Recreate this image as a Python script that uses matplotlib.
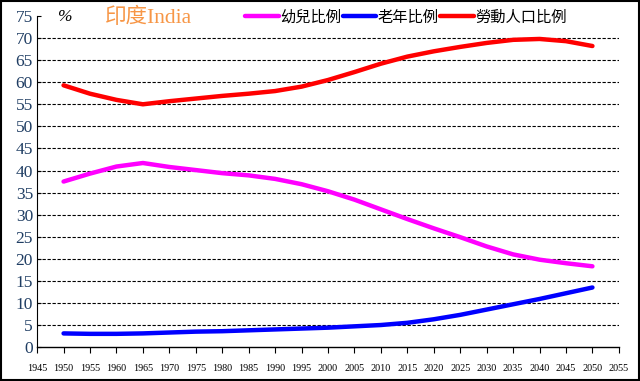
import numpy as np
import matplotlib
matplotlib.use("Agg")
from matplotlib import pyplot as plt
from matplotlib.patches import Rectangle

# 印度 人口結構 (%)
years = list(range(1950, 2051, 5))
child = [37.5, 39.3, 40.9, 41.7, 40.8, 40.1, 39.4, 38.9, 38.1, 36.9, 35.3,
         33.4, 31.2, 29.0, 26.9, 24.9, 22.8, 21.0, 19.8, 19.0, 18.3]
elderly = [3.1, 3.0, 3.0, 3.1, 3.3, 3.5, 3.6, 3.8, 4.0, 4.2, 4.4,
           4.7, 5.0, 5.5, 6.3, 7.3, 8.5, 9.7, 10.9, 12.2, 13.5]
labor = [59.3, 57.4, 56.0, 55.0, 55.7, 56.3, 56.9, 57.4, 58.0, 59.0, 60.5,
         62.3, 64.2, 65.8, 67.0, 68.0, 68.9, 69.6, 69.8, 69.3, 68.2]
series_names = ["幼兒比例", "老年比例", "勞動人口比例"]
x_ticks = list(range(1945, 2056, 5))
y_ticks = list(range(0, 76, 5))

CJK = ["Noto Sans CJK TC", "DejaVu Sans"]
SERIF_CJK = ["Liberation Serif", "Noto Sans CJK TC"]

fig = plt.figure(figsize=(6.4, 3.81), dpi=100)
ax = fig.add_axes([0.058, 0.089, 0.909, 0.869])

for vals, color in zip([child, elderly, labor], ["#FF00FF", "#0000FF", "#FF0000"]):
    ax.plot(years, vals, color=color, lw=3.2, solid_capstyle="round",
            solid_joinstyle="round", zorder=3)

# gridlines (dashed), none at 0 and 75
ax.hlines(y_ticks[1:-1], 1945, 2055, colors="black", lw=0.8,
          linestyles=(0, (3, 1.5)), zorder=1)

ax.set_xlim(1945, 2055)
ax.set_ylim(0, 75)
ax.set_xticks(x_ticks)
ax.set_xticklabels([str(t) for t in x_ticks], family="Liberation Serif",
                   fontsize=7.3, color="black")
ax.set_yticks(y_ticks)
ax.set_yticklabels([str(t) for t in y_ticks], family="Liberation Serif",
                   fontsize=12.5, color="#1F3D63")
ax.tick_params(axis="x", direction="out", length=4, width=0.8, pad=8)
ax.tick_params(axis="y", direction="in", length=3, width=0.8, pad=3)

ax.spines["top"].set_visible(False)
ax.spines["right"].set_visible(False)
ax.spines["left"].set_linestyle((0, (2, 1)))
ax.spines["left"].set_linewidth(0.8)
ax.spines["bottom"].set_linewidth(1.0)

fig.text(0.09, 0.955, "%", family="Liberation Serif", style="italic",
         fontsize=12.5, va="center", ha="left")
fig.text(0.163, 0.952, "印度India", family=SERIF_CJK, fontsize=15.5,
         color="#F79646", va="center", ha="left")

handles = ax.get_lines()
leg = fig.legend(handles, series_names, loc="center left",
                 bbox_to_anchor=(0.383, 0.955), ncol=3, frameon=False,
                 prop={"family": CJK, "size": 11}, handlelength=2.2,
                 handletextpad=0.1, columnspacing=0.1, borderaxespad=0,
                 borderpad=0)

fig.patches.append(Rectangle((0.0015, 0.002), 0.997, 0.995,
                             transform=fig.transFigure, fill=False,
                             edgecolor="black", lw=1.5))

fig.savefig("out.png", dpi=100)
